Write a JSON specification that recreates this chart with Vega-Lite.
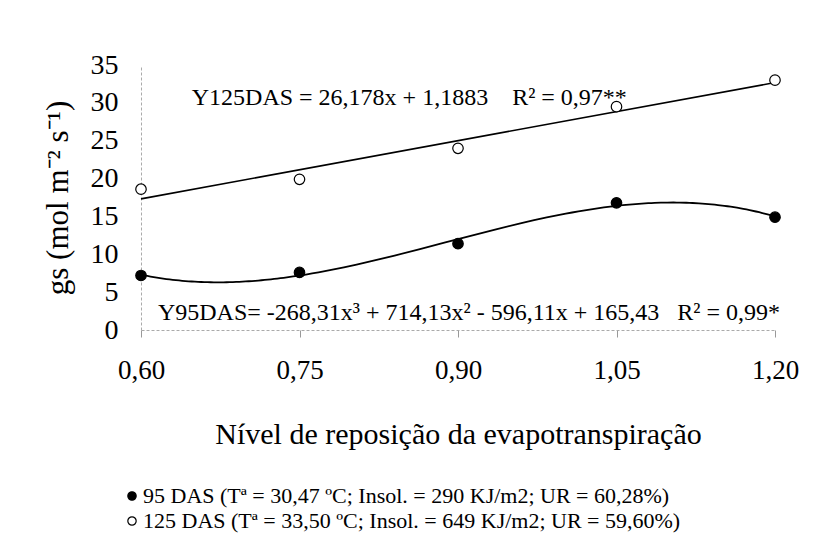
{
  "$schema": "https://vega.github.io/schema/vega-lite/v6.json",
  "autosize": {"type": "none"},
  "padding": {"left": 141, "top": 65, "right": 38, "bottom": 218},
  "width": 634,
  "height": 265,
  "background": "white",
  "config": {
    "font": "Liberation Serif, Times New Roman, serif",
    "view": {"stroke": null},
    "axis": {"labelOverlap": false, "labelFlush": false, "grid": false}
  },
  "datasets": {
    "pts": [
      {"nivel": 0.60, "gs": 7.2, "serie": "95 DAS (Tª = 30,47 ºC; Insol. = 290 KJ/m2; UR = 60,28%)"},
      {"nivel": 0.75, "gs": 7.6, "serie": "95 DAS (Tª = 30,47 ºC; Insol. = 290 KJ/m2; UR = 60,28%)"},
      {"nivel": 0.90, "gs": 11.4, "serie": "95 DAS (Tª = 30,47 ºC; Insol. = 290 KJ/m2; UR = 60,28%)"},
      {"nivel": 1.05, "gs": 16.8, "serie": "95 DAS (Tª = 30,47 ºC; Insol. = 290 KJ/m2; UR = 60,28%)"},
      {"nivel": 1.20, "gs": 14.9, "serie": "95 DAS (Tª = 30,47 ºC; Insol. = 290 KJ/m2; UR = 60,28%)"},
      {"nivel": 0.60, "gs": 18.6, "serie": "125 DAS (Tª = 33,50 ºC; Insol. = 649 KJ/m2; UR = 59,60%)"},
      {"nivel": 0.75, "gs": 19.9, "serie": "125 DAS (Tª = 33,50 ºC; Insol. = 649 KJ/m2; UR = 59,60%)"},
      {"nivel": 0.90, "gs": 24.0, "serie": "125 DAS (Tª = 33,50 ºC; Insol. = 649 KJ/m2; UR = 59,60%)"},
      {"nivel": 1.05, "gs": 29.5, "serie": "125 DAS (Tª = 33,50 ºC; Insol. = 649 KJ/m2; UR = 59,60%)"},
      {"nivel": 1.20, "gs": 33.0, "serie": "125 DAS (Tª = 33,50 ºC; Insol. = 649 KJ/m2; UR = 59,60%)"}
    ],
    "notes": [
      {"nivel": 0.648, "gs": 30.6, "label": "Y125DAS = 26,178x + 1,1883\u00a0\u00a0\u00a0\u00a0R² = 0,97**"},
      {"nivel": 0.616, "gs": 2.3, "label": "Y95DAS= -268,31x³ + 714,13x² - 596,11x + 165,43\u00a0\u00a0\u00a0R² = 0,99*"}
    ]
  },
  "encoding": {
    "x": {
      "field": "nivel", "type": "quantitative",
      "scale": {"domain": [0.6, 1.2], "nice": false, "zero": false},
      "axis": {
        "values": [0.6, 0.75, 0.9, 1.05, 1.2],
        "labelExpr": "replace(format(datum.value, '.2f'), '.', ',')",
        "title": "Nível de reposição da evapotranspiração",
        "labelFont": "Liberation Serif, Times New Roman, serif", "labelFontSize": 27, "labelColor": "black",
        "labelPadding": 20, "labelFlush": false, "labelOverlap": false,
        "tickSize": 7, "tickColor": "#999",
        "domainColor": "#aaa", "domainDash": [3, 2],
        "titleFont": "Liberation Serif, Times New Roman, serif", "titleFontSize": 30, "titleFontWeight": "normal", "titleColor": "black",
        "titlePadding": 36,
        "grid": false
      }
    },
    "y": {
      "field": "gs", "type": "quantitative",
      "scale": {"domain": [0, 35], "nice": false},
      "axis": {
        "values": [0, 5, 10, 15, 20, 25, 30, 35],
        "title": "gs (mol m⁻² s⁻¹)",
        "labelFont": "Liberation Serif, Times New Roman, serif", "labelFontSize": 28, "labelColor": "black",
        "labelPadding": 23, "labelFlush": false, "labelOverlap": false,
        "tickSize": 0,
        "domainColor": "#aaa", "domainDash": [3, 2],
        "titleFont": "Liberation Serif, Times New Roman, serif", "titleFontSize": 31, "titleFontWeight": "normal", "titleColor": "black",
        "titlePadding": 16,
        "grid": false
      }
    }
  },
  "layer": [
    {
      "data": {"name": "pts"},
      "transform": [
        {"filter": "indexof(datum.serie, '95 DAS') === 0"},
        {"regression": "gs", "on": "nivel", "method": "poly", "order": 3, "extent": [0.6, 1.2]}
      ],
      "mark": {"type": "line", "color": "black", "strokeWidth": 1.8}
    },
    {
      "data": {"name": "pts"},
      "transform": [
        {"filter": "indexof(datum.serie, '125 DAS') === 0"},
        {"regression": "gs", "on": "nivel", "method": "linear", "extent": [0.6, 1.2]}
      ],
      "mark": {"type": "line", "color": "black", "strokeWidth": 1.6}
    },
    {
      "data": {"name": "pts"},
      "mark": {"type": "point", "shape": "circle", "stroke": "black", "strokeWidth": 1.2, "size": 110, "opacity": 1, "filled": false},
      "encoding": {
        "fill": {
          "field": "serie", "type": "nominal",
          "scale": {
            "domain": ["95 DAS (Tª = 30,47 ºC; Insol. = 290 KJ/m2; UR = 60,28%)", "125 DAS (Tª = 33,50 ºC; Insol. = 649 KJ/m2; UR = 59,60%)"],
            "range": ["black", "white"]
          },
          "legend": {
            "orient": "none", "legendX": -20, "legendY": 420,
            "title": null,
            "direction": "vertical",
            "symbolType": "circle", "symbolSize": 70, "symbolStrokeColor": "black", "symbolStrokeWidth": 1.2,
            "labelFont": "Liberation Serif, Times New Roman, serif", "labelFontSize": 22, "labelColor": "black", "labelLimit": 760,
            "rowPadding": 3, "labelOffset": 0
          }
        }
      }
    },
    {
      "data": {"name": "notes"},
      "mark": {"type": "text", "align": "left", "baseline": "middle", "font": "Liberation Serif, Times New Roman, serif", "fontSize": 24, "color": "black"},
      "encoding": {
        "text": {"field": "label"}
      }
    }
  ]
}
